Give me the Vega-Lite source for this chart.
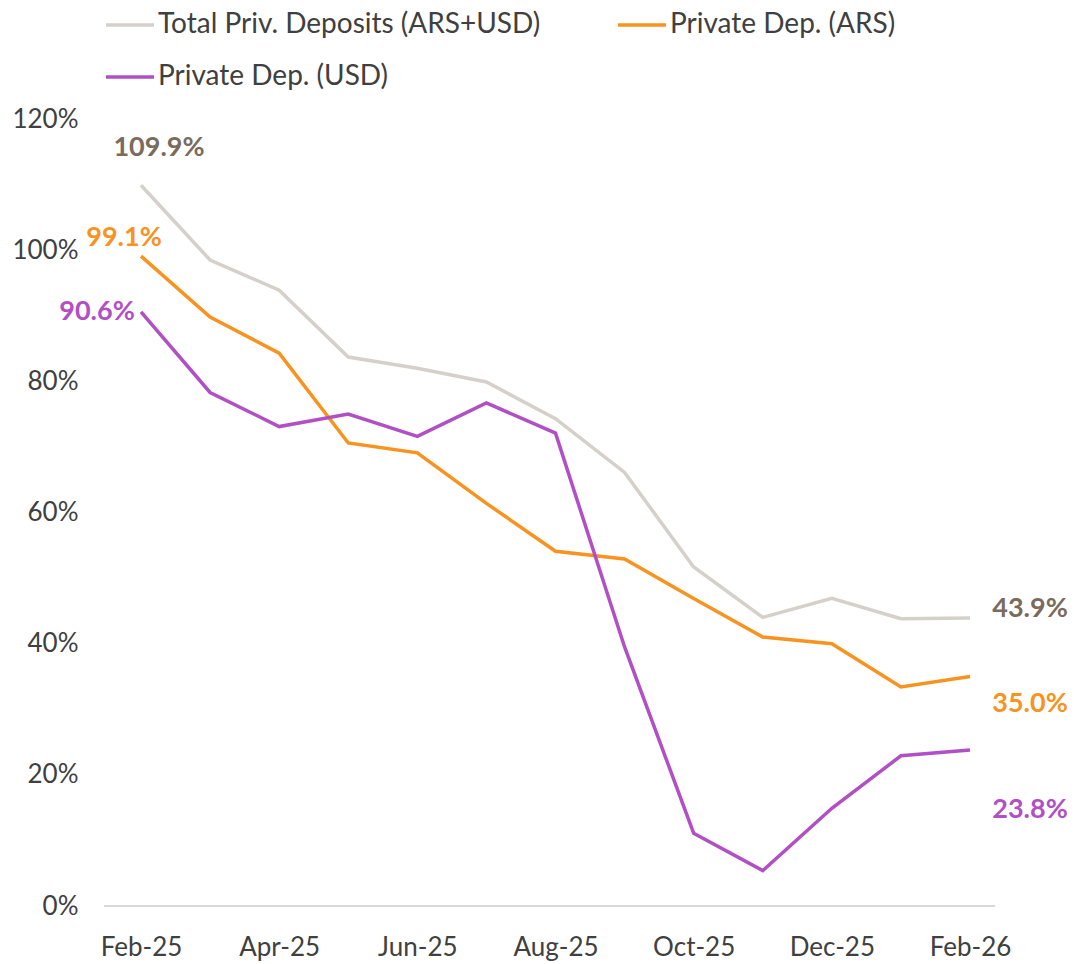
{
  "$schema": "https://vega.github.io/schema/vega-lite/v6.json",
  "width": 891,
  "height": 787,
  "autosize": {"type": "none"},
  "padding": {"left": 104, "top": 119, "right": 79, "bottom": 58},
  "background": "white",
  "config": {
    "font": "Lato",
    "view": {"stroke": null},
    "axis": {"labelFont": "Lato", "labelColor": "#404040", "labelFontSize": 26, "grid": false, "ticks": false, "title": null}
  },
  "data": {
    "values": [
      {"month": "Feb-25", "series": "Total Priv. Deposits (ARS+USD)", "value": 1.099},
      {"month": "Mar-25", "series": "Total Priv. Deposits (ARS+USD)", "value": 0.985},
      {"month": "Apr-25", "series": "Total Priv. Deposits (ARS+USD)", "value": 0.939},
      {"month": "May-25", "series": "Total Priv. Deposits (ARS+USD)", "value": 0.837},
      {"month": "Jun-25", "series": "Total Priv. Deposits (ARS+USD)", "value": 0.820},
      {"month": "Jul-25", "series": "Total Priv. Deposits (ARS+USD)", "value": 0.799},
      {"month": "Aug-25", "series": "Total Priv. Deposits (ARS+USD)", "value": 0.743},
      {"month": "Sep-25", "series": "Total Priv. Deposits (ARS+USD)", "value": 0.661},
      {"month": "Oct-25", "series": "Total Priv. Deposits (ARS+USD)", "value": 0.517},
      {"month": "Nov-25", "series": "Total Priv. Deposits (ARS+USD)", "value": 0.440},
      {"month": "Dec-25", "series": "Total Priv. Deposits (ARS+USD)", "value": 0.469},
      {"month": "Jan-26", "series": "Total Priv. Deposits (ARS+USD)", "value": 0.438},
      {"month": "Feb-26", "series": "Total Priv. Deposits (ARS+USD)", "value": 0.439},
      {"month": "Feb-25", "series": "Private Dep. (ARS)", "value": 0.991},
      {"month": "Mar-25", "series": "Private Dep. (ARS)", "value": 0.898},
      {"month": "Apr-25", "series": "Private Dep. (ARS)", "value": 0.843},
      {"month": "May-25", "series": "Private Dep. (ARS)", "value": 0.706},
      {"month": "Jun-25", "series": "Private Dep. (ARS)", "value": 0.691},
      {"month": "Jul-25", "series": "Private Dep. (ARS)", "value": 0.614},
      {"month": "Aug-25", "series": "Private Dep. (ARS)", "value": 0.541},
      {"month": "Sep-25", "series": "Private Dep. (ARS)", "value": 0.529},
      {"month": "Oct-25", "series": "Private Dep. (ARS)", "value": 0.469},
      {"month": "Nov-25", "series": "Private Dep. (ARS)", "value": 0.410},
      {"month": "Dec-25", "series": "Private Dep. (ARS)", "value": 0.400},
      {"month": "Jan-26", "series": "Private Dep. (ARS)", "value": 0.334},
      {"month": "Feb-26", "series": "Private Dep. (ARS)", "value": 0.350},
      {"month": "Feb-25", "series": "Private Dep. (USD)", "value": 0.906},
      {"month": "Mar-25", "series": "Private Dep. (USD)", "value": 0.783},
      {"month": "Apr-25", "series": "Private Dep. (USD)", "value": 0.731},
      {"month": "May-25", "series": "Private Dep. (USD)", "value": 0.750},
      {"month": "Jun-25", "series": "Private Dep. (USD)", "value": 0.716},
      {"month": "Jul-25", "series": "Private Dep. (USD)", "value": 0.767},
      {"month": "Aug-25", "series": "Private Dep. (USD)", "value": 0.721},
      {"month": "Sep-25", "series": "Private Dep. (USD)", "value": 0.395},
      {"month": "Oct-25", "series": "Private Dep. (USD)", "value": 0.111},
      {"month": "Nov-25", "series": "Private Dep. (USD)", "value": 0.054},
      {"month": "Dec-25", "series": "Private Dep. (USD)", "value": 0.149},
      {"month": "Jan-26", "series": "Private Dep. (USD)", "value": 0.229},
      {"month": "Feb-26", "series": "Private Dep. (USD)", "value": 0.238}
    ]
  },
  "encoding": {
    "x": {
      "field": "month", "type": "ordinal", "sort": null,
      "scale": {"type": "point", "range": [37, 866], "padding": 0},
      "axis": {
        "values": ["Feb-25", "Apr-25", "Jun-25", "Aug-25", "Oct-25", "Dec-25", "Feb-26"],
        "labelAngle": 0, "labelPadding": 28, "domain": false
      }
    },
    "y": {
      "field": "value", "type": "quantitative",
      "scale": {"domain": [0, 1.2], "nice": false},
      "axis": {"format": ".0%", "values": [0, 0.2, 0.4, 0.6, 0.8, 1.0, 1.2], "domain": false, "labelPadding": 26}
    }
  },
  "layer": [
    {
      "mark": {"type": "rule", "color": "#d9d9d9", "strokeWidth": 1.5},
      "encoding": {"x": {"value": 0}, "x2": {"value": 891}, "y": {"datum": 0}}
    },
    {
      "mark": {"type": "line", "strokeWidth": 3.5},
      "encoding": {
        "color": {
          "field": "series", "type": "nominal",
          "scale": {
            "domain": ["Total Priv. Deposits (ARS+USD)", "Private Dep. (USD)", "Private Dep. (ARS)"],
            "range": ["#d6d0ca", "#b14fc5", "#f7931e"]
          },
          "legend": {
            "title": null, "orient": "none", "legendX": 0, "legendY": -120,
            "columns": 2, "columnPadding": 70, "rowPadding": 12, "padding": 0,
            "symbolType": "stroke", "symbolSize": 2304, "symbolStrokeWidth": 3.5,
            "labelFont": "Lato", "labelFontSize": 28, "labelColor": "#404040", "labelOffset": 2, "labelLimit": 600
          }
        }
      }
    },
    {
      "transform": [{"filter": "datum.month == 'Feb-25' && datum.series == 'Total Priv. Deposits (ARS+USD)'"}],
      "mark": {"type": "text", "font": "Lato", "fontWeight": "bold", "fontSize": 27, "color": "#7a6b5d", "align": "center", "baseline": "middle", "dx": 18, "dy": -37},
      "encoding": {"text": {"field": "value", "format": ".1%"}}
    },
    {
      "transform": [{"filter": "datum.month == 'Feb-25' && datum.series == 'Private Dep. (ARS)'"}],
      "mark": {"type": "text", "font": "Lato", "fontWeight": "bold", "fontSize": 27, "color": "#f7931e", "align": "center", "baseline": "middle", "dx": -17, "dy": -18},
      "encoding": {"text": {"field": "value", "format": ".1%"}}
    },
    {
      "transform": [{"filter": "datum.month == 'Feb-25' && datum.series == 'Private Dep. (USD)'"}],
      "mark": {"type": "text", "font": "Lato", "fontWeight": "bold", "fontSize": 27, "color": "#b14fc5", "align": "center", "baseline": "middle", "dx": -44, "dy": 0},
      "encoding": {"text": {"field": "value", "format": ".1%"}}
    },
    {
      "transform": [{"filter": "datum.month == 'Feb-26' && datum.series == 'Total Priv. Deposits (ARS+USD)'"}],
      "mark": {"type": "text", "font": "Lato", "fontWeight": "bold", "fontSize": 27, "color": "#7a6b5d", "align": "center", "baseline": "middle", "dx": 60, "dy": -9},
      "encoding": {"text": {"field": "value", "format": ".1%"}}
    },
    {
      "transform": [{"filter": "datum.month == 'Feb-26' && datum.series == 'Private Dep. (ARS)'"}],
      "mark": {"type": "text", "font": "Lato", "fontWeight": "bold", "fontSize": 27, "color": "#f7931e", "align": "center", "baseline": "middle", "dx": 60, "dy": 28},
      "encoding": {"text": {"field": "value", "format": ".1%"}}
    },
    {
      "transform": [{"filter": "datum.month == 'Feb-26' && datum.series == 'Private Dep. (USD)'"}],
      "mark": {"type": "text", "font": "Lato", "fontWeight": "bold", "fontSize": 27, "color": "#b14fc5", "align": "center", "baseline": "middle", "dx": 60, "dy": 60},
      "encoding": {"text": {"field": "value", "format": ".1%"}}
    }
  ]
}
